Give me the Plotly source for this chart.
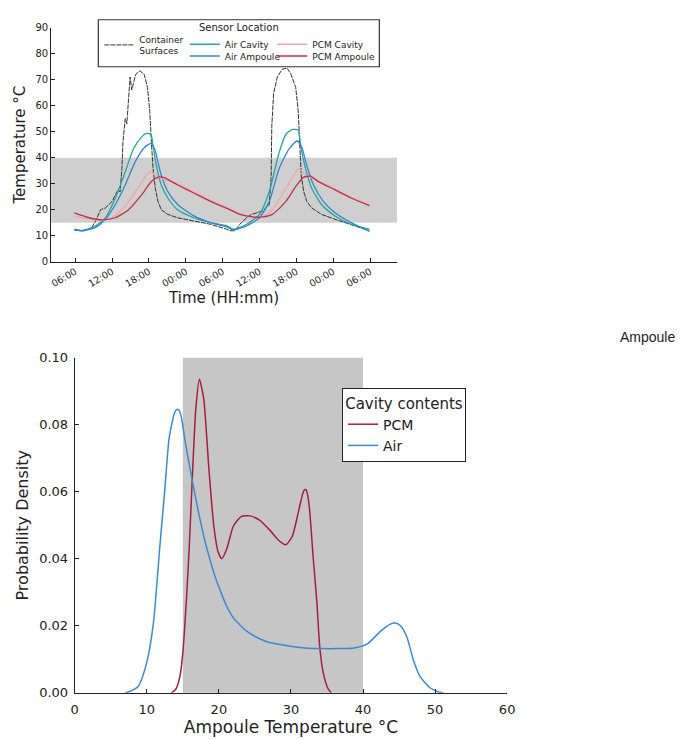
import plotly.graph_objects as go
import pandas as pd

# ---------------- Top chart data (hours after 06:00 of day 1) ----------------
t_cont = [-0.13, 1.0, 2.5, 3.33, 4.13, 4.93, 6.0, 6.53, 6.96, 7.3, 7.6, 7.76, 8.13, 8.4, 8.67, 8.93,
          9.2, 9.47, 9.84, 10.53, 11.23, 11.76, 12.13, 12.4, 12.67, 13.04, 13.47, 14.0, 15.07, 16.67,
          19.33, 22.0, 24.67, 25.2, 26.0, 26.8, 27.9, 28.7, 30.5, 31.6, 31.9, 32.0, 32.3, 32.9, 33.7,
          34.5, 35.1, 35.9, 36.3, 36.5, 36.8, 37.2, 37.7, 38.5, 40.1, 42.3, 44.9, 47.9]
v_cont = [12.2, 12.0, 12.5, 15.7, 20.0, 20.7, 23.2, 25.7, 27.6, 26.8, 35.8, 45.8, 55.0, 53.0, 63.4, 71.0,
          66.0, 69.0, 72.0, 73.4, 72.0, 67.0, 58.0, 45.8, 35.8, 28.2, 23.2, 20.0, 18.2, 16.9,
          15.7, 14.4, 12.5, 11.9, 11.9, 14.4, 16.9, 18.2, 19.5, 22.0, 33.0, 52.0, 64.6, 71.0, 74.0,
          74.4, 72.2, 67.0, 58.0, 45.8, 33.0, 27.0, 23.2, 20.7, 18.2, 16.3, 14.4, 11.9]

t_air_cav = [-0.13, 1.2, 3.33, 4.93, 6.53, 8.13, 9.47, 10.8, 11.6, 12.3, 12.67, 13.2, 14.0, 15.07, 16.67,
             19.33, 22.0, 24.67, 25.7, 27.9, 30.0, 31.6, 33.2, 34.3, 35.3, 36.3, 36.7, 37.5, 38.5,
             40.1, 42.3, 44.9, 47.9]
v_air_cav = [12.5, 11.9, 13.8, 16.9, 24.5, 34.5, 43.3, 48.0, 49.3, 49.0, 44.6, 37.0, 29.5, 24.5, 20.0,
             16.9, 15.0, 13.8, 12.5, 14.4, 18.2, 27.0, 42.0, 49.0, 50.8, 50.6, 44.6, 35.8, 28.2,
             22.0, 17.6, 14.4, 12.5]

t_air_amp = [-0.13, 1.2, 3.33, 4.93, 6.53, 8.13, 9.73, 11.3, 12.3, 12.93, 13.47, 14.0, 15.07, 16.67,
             19.33, 22.0, 24.67, 25.7, 27.9, 30.0, 31.6, 33.2, 34.8, 36.1, 36.9, 37.7, 38.8, 40.4,
             42.3, 44.9, 47.9]
v_air_amp = [12.2, 11.9, 13.2, 16.3, 22.0, 29.5, 38.3, 44.0, 45.4, 43.3, 38.3, 33.3, 27.0, 22.0,
             17.6, 15.0, 13.4, 12.2, 13.8, 16.9, 23.2, 35.8, 43.3, 46.4, 43.9, 37.0, 29.5, 23.2,
             18.8, 15.0, 11.7]

t_pcm_cav = [-0.13, 2.0, 4.4, 6.0, 8.0, 10.0, 11.5, 12.3, 13.0, 14.0, 16.7, 19.3, 22.0, 24.7, 26.8,
             28.9, 30.5, 32.1, 34.0, 35.5, 36.4, 37.2, 38.3, 39.6, 42.3, 44.9, 47.9]
v_pcm_cav = [17.5, 16.5, 15.8, 17.0, 21.0, 27.5, 33.0, 34.5, 33.5, 32.0, 29.8, 26.8, 23.6, 20.8, 18.5,
             17.0, 17.3, 20.0, 27.0, 33.0, 35.8, 34.0, 32.5, 31.0, 27.9, 24.8, 21.9]

t_pcm_amp = [-0.13, 2.27, 4.4, 6.53, 8.67, 10.8, 12.4, 13.5, 14.5, 16.7, 19.3, 22.0, 24.7, 26.8, 28.9,
             30.5, 32.1, 34.3, 35.9, 37.2, 38.3, 39.6, 42.3, 44.9, 47.9]
v_pcm_amp = [18.8, 16.9, 16.1, 16.9, 20.0, 25.7, 30.8, 32.5, 32.3, 29.5, 26.4, 23.2, 20.5, 18.2, 17.2,
             17.2, 18.2, 23.2, 28.9, 32.5, 32.9, 30.8, 27.6, 24.5, 21.6]

# ---------------- Bottom chart data ----------------
temp_air = [7.0, 7.5, 8.8, 9.95, 10.9, 11.8, 12.45, 13.1, 13.8, 14.05, 14.27, 14.5, 14.8, 15.4, 16.3,
            17.2, 18.1, 18.8, 19.5, 20.2, 21.0, 22.0, 23.8, 25.6, 27.0, 29.7, 32.0, 34.3, 36.5,
            38.8, 40.6, 42.5, 43.8, 44.5, 45.2, 46.1, 47.0, 47.9, 49.3, 50.4, 51.1]
dens_air = [0.0, 0.0003, 0.0019, 0.0087, 0.0205, 0.0435, 0.0595, 0.076, 0.0833, 0.0843, 0.0846,
            0.0842, 0.0822, 0.074, 0.0634, 0.0536, 0.0450, 0.0395, 0.0345, 0.0305, 0.0262, 0.0224,
            0.0185, 0.0162, 0.0150, 0.0140, 0.0134, 0.0132, 0.0132, 0.0134, 0.0146, 0.0185,
            0.0205, 0.0208, 0.0200, 0.0166, 0.0097, 0.0049, 0.0015, 0.0003, 0.0]

temp_pcm = [13.4, 14.0, 14.6, 15.0, 15.5, 15.9, 16.3, 16.8, 17.3, 17.9, 18.6, 19.3, 19.9, 20.4, 21.1,
            22.0, 23.1, 24.3, 25.6, 27.0, 28.4, 29.3, 30.2, 31.1, 31.8, 32.1, 32.5, 33.1, 33.6,
            34.0, 34.5, 35.2, 35.6]
dens_pcm = [0.0, 0.001, 0.005, 0.012, 0.028, 0.044, 0.0634, 0.0848, 0.0936, 0.0877, 0.0673, 0.0497,
            0.042, 0.0400, 0.043, 0.0497, 0.0526, 0.0528, 0.0516, 0.0487, 0.0453, 0.0442, 0.0468,
            0.0546, 0.0604, 0.0606, 0.0565, 0.040, 0.027, 0.0136, 0.0058, 0.001, 0.0]

base = pd.Timestamp("2016-07-01 06:00")


def to_time(hours):
    return [base + pd.Timedelta(hours=h) for h in hours]


W, H = 692, 739
FONT = "DejaVu Sans"

fig = go.Figure()

spl = dict(shape="spline", smoothing=0.6)

# top chart traces (one small legend per entry so the box can hold 3 columns)
fig.add_trace(go.Scatter(x=to_time(t_cont), y=v_cont, mode="lines", name="Container<br>Surfaces",
                         line=dict(color="#333333", width=1, dash="5px,1px"), legend="legend",
                         xaxis="x", yaxis="y"))
fig.add_trace(go.Scatter(x=to_time(t_air_cav), y=v_air_cav, mode="lines", name="Air Cavity",
                         line=dict(color="#1fa89c", width=1.3, **spl),
                         legend="legend2", xaxis="x", yaxis="y"))
fig.add_trace(go.Scatter(x=to_time(t_air_amp), y=v_air_amp, mode="lines", name="Air Ampoule",
                         line=dict(color="#2f86d0", width=1.3, **spl),
                         legend="legend3", xaxis="x", yaxis="y"))
fig.add_trace(go.Scatter(x=to_time(t_pcm_cav), y=v_pcm_cav, mode="lines", name="PCM Cavity",
                         line=dict(color="#f2a3ad", width=1.3, **spl),
                         legend="legend4", xaxis="x", yaxis="y"))
fig.add_trace(go.Scatter(x=to_time(t_pcm_amp), y=v_pcm_amp, mode="lines", name="PCM Ampoule",
                         line=dict(color="#c2304a", width=1.3, **spl),
                         legend="legend5", xaxis="x", yaxis="y"))

# bottom chart traces
fig.add_trace(go.Scatter(x=temp_pcm, y=dens_pcm, mode="lines", name="PCM",
                         line=dict(color="#a81c3c", width=1.5, **spl),
                         legend="legend6", xaxis="x2", yaxis="y2"))
fig.add_trace(go.Scatter(x=temp_air, y=dens_air, mode="lines", name="Air",
                         line=dict(color="#3a8ad6", width=1.5, **spl),
                         legend="legend6", xaxis="x2", yaxis="y2"))

# grey bands
fig.add_shape(type="rect", xref="x domain", yref="y", x0=0, x1=1, y0=15, y1=40,
              fillcolor="#cfcfcf", line=dict(width=0), layer="below")
fig.add_shape(type="rect", xref="x2", yref="y2 domain", x0=15, x1=40, y0=0, y1=1,
              fillcolor="#c6c6c6", line=dict(width=0), layer="below")

# top legend box and title
BX0, BX1 = 96, 382
fig.add_shape(type="rect", xref="paper", yref="paper",
              x0=BX0 / W, x1=BX1 / W, y0=1 - 61 / H, y1=1 - 13 / H,
              line=dict(color="#333333", width=1.2), fillcolor="rgba(255,255,255,0)")
fig.add_annotation(text="Sensor Location", xref="paper", yref="paper", x=(BX0 + BX1) / 2 / W,
                   y=1 - 21 / H, showarrow=False, font=dict(family=FONT, size=10, color="#222"),
                   xanchor="center", yanchor="middle")

fig.add_annotation(text="Ampoule", xref="paper", yref="paper", x=655 / W, y=1 - 337 / H,
                   showarrow=False, font=dict(family="Liberation Sans", size=14, color="#222"),
                   xanchor="center", yanchor="middle")

axis_common = dict(showline=True, linecolor="#222", linewidth=1, ticks="inside", ticklen=4,
                   tickcolor="#222", showgrid=False, zeroline=False, mirror=False)


def small_legend(px, py):
    return dict(x=px / W, y=1 - py / H, xanchor="left", yanchor="middle",
                bgcolor="rgba(0,0,0,0)", borderwidth=0,
                font=dict(family=FONT, size=9, color="#222"))


fig.update_layout(
    width=W, height=H,
    margin=dict(l=0, r=0, t=0, b=0),
    paper_bgcolor="white", plot_bgcolor="white",
    font=dict(family=FONT, color="#222"),
    xaxis=dict(domain=[48 / W, 400 / W], anchor="y", type="date",
               range=[base - pd.Timedelta(hours=3.92), base + pd.Timedelta(hours=52.4)],
               tick0=base, dtick=6 * 3600 * 1000, tickformat="%H:%M", tickangle=-30,
               tickfont=dict(size=9.5),
               title=dict(text="Time (HH:mm)", font=dict(size=15), standoff=4), **axis_common),
    yaxis=dict(domain=[1 - 260 / H, 1 - 21 / H], anchor="x", range=[0, 90], dtick=10,
               tickfont=dict(size=10),
               title=dict(text="Temperature °C", font=dict(size=15), standoff=6), **axis_common),
    xaxis2=dict(domain=[72 / W, 512 / W], anchor="y2", range=[0, 60], dtick=10,
                tickfont=dict(size=13), ticklabelstandoff=5,
                title=dict(text="Ampoule Temperature °C", font=dict(size=17), standoff=4),
                **axis_common),
    yaxis2=dict(domain=[1 - 700 / H, 1 - 358 / H], anchor="x2", range=[0, 0.1], dtick=0.02,
                tickformat=".2f", tickfont=dict(size=13), ticklabelstandoff=3,
                title=dict(text="Probability Density", font=dict(size=16), standoff=6),
                **axis_common),
    legend=small_legend(97, 39),
    legend2=small_legend(184, 38),
    legend3=small_legend(184, 50),
    legend4=small_legend(273, 38),
    legend5=small_legend(273, 50),
    legend6=dict(x=344 / W, y=1 - 389 / H, xanchor="left", yanchor="top",
                 bgcolor="white", bordercolor="#222", borderwidth=1,
                 font=dict(family=FONT, size=14, color="#222"),
                 title=dict(text="Cavity contents", side="top center",
                            font=dict(family=FONT, size=15, color="#222"))),
    showlegend=True,
)

fig.write_html("out.html")
